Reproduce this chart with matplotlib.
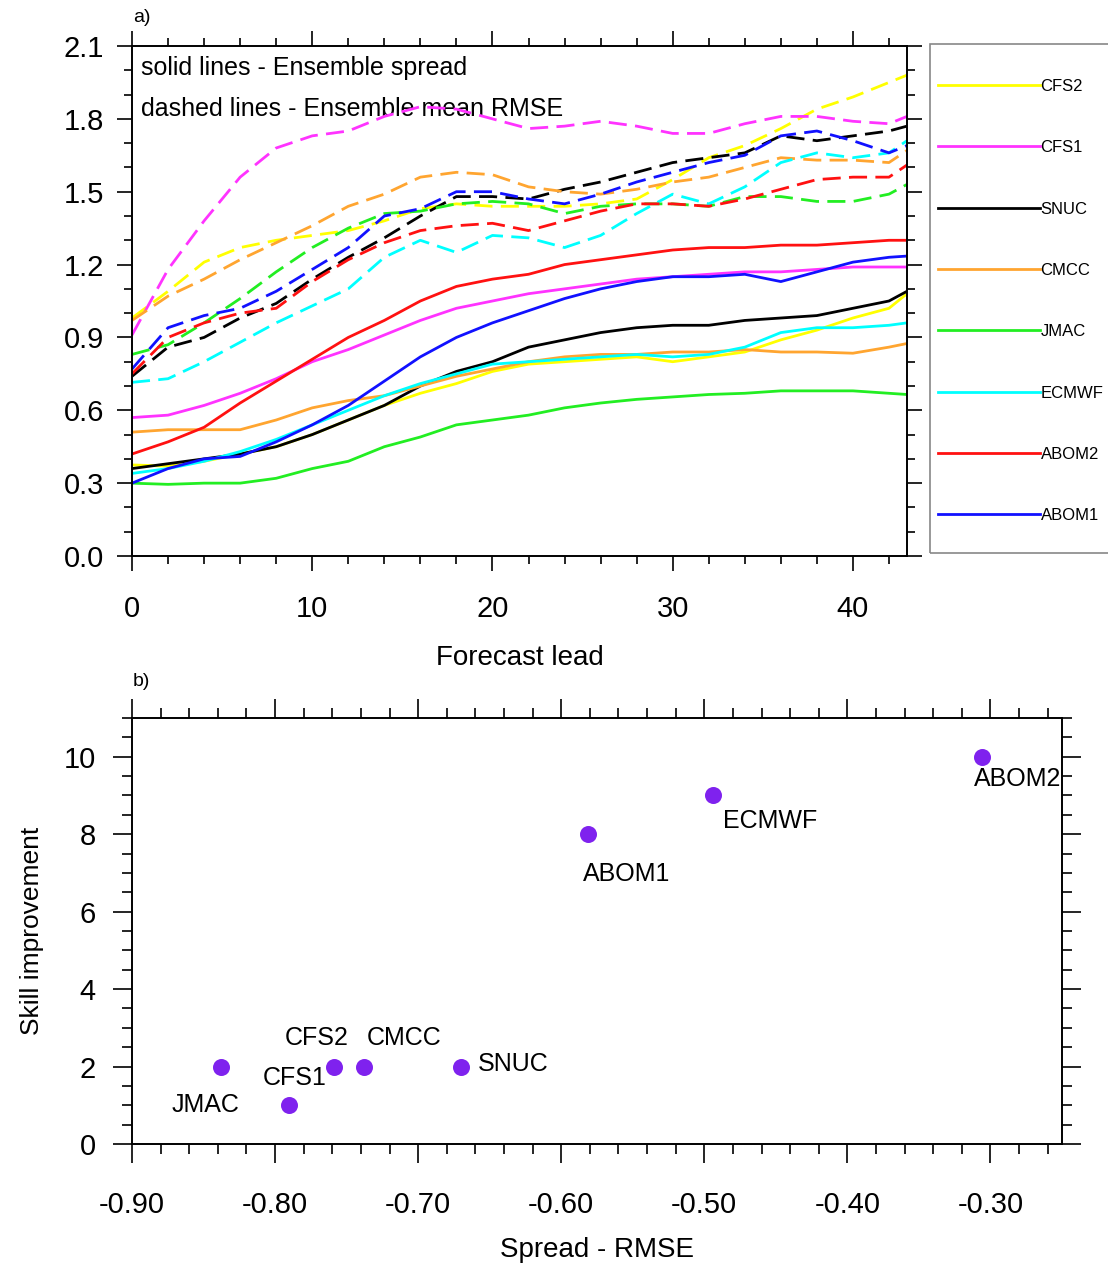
import matplotlib
matplotlib.use("Agg")
import matplotlib.pyplot as plt
from matplotlib.lines import Line2D
from matplotlib.patches import Rectangle
from matplotlib.ticker import MultipleLocator

plt.rcParams['font.family'] = ['Liberation Sans', 'DejaVu Sans']

# ---- panel a) data : forecast lead (days) ----
days = [0, 2, 4, 6, 8, 10, 12, 14, 16, 18, 20, 22, 24, 26, 28, 30, 32, 34, 36, 38, 40, 42, 43]

models = ['CFS2', 'CFS1', 'SNUC', 'CMCC', 'JMAC', 'ECMWF', 'ABOM2', 'ABOM1']
colors = ['#ffff00', '#ff33ff', '#000000', '#ffa530', '#22ee22', '#00ffff', '#ff1111', '#1111ff']

# ensemble spread (solid)
spread_cfs2 = [0.375, 0.37, 0.39, 0.42, 0.45, 0.50, 0.56, 0.62, 0.67, 0.71, 0.76, 0.79, 0.80, 0.81, 0.82, 0.80, 0.82, 0.84, 0.89, 0.93, 0.98, 1.02, 1.08]
spread_cfs1 = [0.57, 0.58, 0.62, 0.67, 0.73, 0.80, 0.85, 0.91, 0.97, 1.02, 1.05, 1.08, 1.10, 1.12, 1.14, 1.15, 1.16, 1.17, 1.17, 1.18, 1.19, 1.19, 1.19]
spread_snuc = [0.36, 0.38, 0.40, 0.42, 0.45, 0.50, 0.56, 0.62, 0.70, 0.76, 0.80, 0.86, 0.89, 0.92, 0.94, 0.95, 0.95, 0.97, 0.98, 0.99, 1.02, 1.05, 1.09]
spread_cmcc = [0.51, 0.52, 0.52, 0.52, 0.56, 0.61, 0.64, 0.66, 0.70, 0.74, 0.77, 0.80, 0.82, 0.83, 0.83, 0.84, 0.84, 0.85, 0.84, 0.84, 0.835, 0.86, 0.875]
spread_jmac = [0.30, 0.295, 0.30, 0.30, 0.32, 0.36, 0.39, 0.45, 0.49, 0.54, 0.56, 0.58, 0.61, 0.63, 0.645, 0.655, 0.665, 0.67, 0.68, 0.68, 0.68, 0.67, 0.665]
spread_ecmwf = [0.34, 0.36, 0.39, 0.43, 0.48, 0.54, 0.60, 0.66, 0.71, 0.75, 0.79, 0.80, 0.81, 0.82, 0.83, 0.82, 0.83, 0.86, 0.92, 0.94, 0.94, 0.95, 0.96]
spread_abom2 = [0.42, 0.47, 0.53, 0.63, 0.72, 0.81, 0.90, 0.97, 1.05, 1.11, 1.14, 1.16, 1.20, 1.22, 1.24, 1.26, 1.27, 1.27, 1.28, 1.28, 1.29, 1.30, 1.30]
spread_abom1 = [0.30, 0.36, 0.40, 0.41, 0.47, 0.54, 0.62, 0.72, 0.82, 0.90, 0.96, 1.01, 1.06, 1.10, 1.13, 1.15, 1.15, 1.16, 1.13, 1.17, 1.21, 1.23, 1.235]

# ensemble mean RMSE (dashed)
rmse_cfs2 = [0.98, 1.09, 1.21, 1.27, 1.30, 1.32, 1.34, 1.38, 1.43, 1.45, 1.44, 1.44, 1.44, 1.45, 1.47, 1.55, 1.64, 1.69, 1.76, 1.84, 1.89, 1.95, 1.98]
rmse_cfs1 = [0.91, 1.18, 1.38, 1.56, 1.68, 1.73, 1.75, 1.81, 1.85, 1.84, 1.80, 1.76, 1.77, 1.79, 1.77, 1.74, 1.74, 1.78, 1.81, 1.81, 1.79, 1.78, 1.81]
rmse_snuc = [0.74, 0.86, 0.90, 0.98, 1.04, 1.14, 1.23, 1.31, 1.40, 1.48, 1.48, 1.47, 1.51, 1.54, 1.58, 1.62, 1.64, 1.66, 1.73, 1.71, 1.73, 1.75, 1.77]
rmse_cmcc = [0.97, 1.07, 1.14, 1.22, 1.29, 1.36, 1.44, 1.49, 1.56, 1.58, 1.57, 1.52, 1.50, 1.49, 1.51, 1.54, 1.56, 1.60, 1.64, 1.63, 1.63, 1.62, 1.67]
rmse_jmac = [0.83, 0.87, 0.96, 1.06, 1.17, 1.27, 1.35, 1.41, 1.42, 1.45, 1.46, 1.45, 1.41, 1.44, 1.45, 1.45, 1.44, 1.48, 1.48, 1.46, 1.46, 1.49, 1.53]
rmse_ecmwf = [0.715, 0.73, 0.80, 0.88, 0.96, 1.03, 1.10, 1.23, 1.30, 1.25, 1.32, 1.31, 1.27, 1.32, 1.41, 1.49, 1.45, 1.52, 1.62, 1.66, 1.64, 1.66, 1.71]
rmse_abom2 = [0.75, 0.90, 0.96, 1.00, 1.02, 1.13, 1.22, 1.29, 1.34, 1.36, 1.37, 1.34, 1.38, 1.42, 1.45, 1.45, 1.44, 1.47, 1.51, 1.55, 1.56, 1.56, 1.61]
rmse_abom1 = [0.77, 0.94, 0.99, 1.02, 1.09, 1.18, 1.27, 1.40, 1.43, 1.50, 1.50, 1.47, 1.45, 1.49, 1.54, 1.58, 1.62, 1.65, 1.73, 1.75, 1.71, 1.66, 1.69]

spread = [spread_cfs2, spread_cfs1, spread_snuc, spread_cmcc, spread_jmac, spread_ecmwf, spread_abom2, spread_abom1]
rmse = [rmse_cfs2, rmse_cfs1, rmse_snuc, rmse_cmcc, rmse_jmac, rmse_ecmwf, rmse_abom2, rmse_abom1]

# ---- panel b) data ----
sc_names = ['JMAC', 'CFS1', 'CFS2', 'CMCC', 'SNUC', 'ABOM1', 'ECMWF', 'ABOM2']
spread_minus_rmse = [-0.838, -0.790, -0.759, -0.738, -0.670, -0.581, -0.494, -0.306]
skill_improvement = [2, 1, 2, 2, 2, 8, 9, 10]
label_offsets = [(-15, -38), (5, 27), (-17, 29), (40, 29), (52, 3), (38, -40), (57, -26), (36, -22)]

W, H = 1108, 1264
fig = plt.figure(figsize=(W / 100, H / 100), dpi=100)


def style_axis(ax):
    ax.tick_params(which='both', direction='out', top=True, right=True, width=1.2, colors='black')
    ax.tick_params(which='major', length=11)
    ax.tick_params(which='minor', length=5.5)
    for s in ax.spines.values():
        s.set_linewidth(1.4)


# ---------------- panel a ----------------
ax1 = fig.add_axes([132 / W, 1 - 556 / H, 775 / W, 510 / H])
for i in range(len(models)):
    ax1.plot(days, spread[i], color=colors[i], lw=2.0, solid_joinstyle='round')
    ax1.plot(days, rmse[i], color=colors[i], lw=2.0, dashes=(6.5, 3))

ax1.set_xlim(0, 43)
ax1.set_ylim(0, 2.1)
ax1.xaxis.set_major_locator(MultipleLocator(10))
ax1.xaxis.set_minor_locator(MultipleLocator(2))
ax1.yaxis.set_major_locator(MultipleLocator(0.3))
ax1.yaxis.set_minor_locator(MultipleLocator(0.1))
ax1.yaxis.set_major_formatter(plt.FormatStrFormatter('%.1f'))
style_axis(ax1)
ax1.tick_params(axis='x', labelsize=21, pad=17)
ax1.tick_params(axis='y', labelsize=21, pad=9)
ax1.set_xlabel('Forecast lead', fontsize=20, labelpad=16)
ax1.text(0.012, 0.957, 'solid lines - Ensemble spread', transform=ax1.transAxes,
         fontsize=18, va='center', ha='left', zorder=0)
ax1.text(0.012, 0.876, 'dashed lines - Ensemble mean RMSE', transform=ax1.transAxes,
         fontsize=18, va='center', ha='left', zorder=0)
fig.text(133 / W, 1 - 18 / H, 'a)', fontsize=14, va='center', ha='left')

# legend box
fig.patches.append(Rectangle((930 / W, 1 - 553 / H), 180 / W, 509 / H, transform=fig.transFigure,
                             fill=False, edgecolor='#888888', lw=1.2))
handles = [Line2D([], [], color=c, lw=2.0) for c in colors]
fig.legend(handles, models, loc='upper left', bbox_to_anchor=(938 / W, 1 - 79 / H),
           frameon=False, fontsize=12, handlelength=6.1, handletextpad=0.05,
           labelspacing=2.78, borderpad=0, borderaxespad=0)

# ---------------- panel b ----------------
ax2 = fig.add_axes([132 / W, 1 - 1144 / H, 930 / W, 426 / H])
ax2.scatter(spread_minus_rmse, skill_improvement, s=150, color='#7f22ee', zorder=3, linewidths=0)
for name, x, y, off in zip(sc_names, spread_minus_rmse, skill_improvement, label_offsets):
    ax2.annotate(name, (x, y), xytext=off, textcoords='offset pixels',
                 ha='center', va='center', fontsize=18)
ax2.set_xlim(-0.90, -0.25)
ax2.set_ylim(0, 11)
ax2.xaxis.set_major_locator(MultipleLocator(0.1))
ax2.xaxis.set_minor_locator(MultipleLocator(0.02))
ax2.yaxis.set_major_locator(MultipleLocator(2))
ax2.yaxis.set_minor_locator(MultipleLocator(0.5))
ax2.xaxis.set_major_formatter(plt.FormatStrFormatter('%.2f'))
style_axis(ax2)
ax2.tick_params(which='major', length=14)
ax2.tick_params(which='minor', length=7)
ax2.tick_params(axis='x', labelsize=21, pad=20)
ax2.tick_params(axis='y', labelsize=21, pad=12)
ax2.set_xlabel('Spread - RMSE', fontsize=20, labelpad=13)
ax2.set_ylabel('Skill improvement', fontsize=19, labelpad=14)
fig.text(133 / W, 1 - 681 / H, 'b)', fontsize=14, va='center', ha='left')

fig.savefig('out.png', dpi=100)
